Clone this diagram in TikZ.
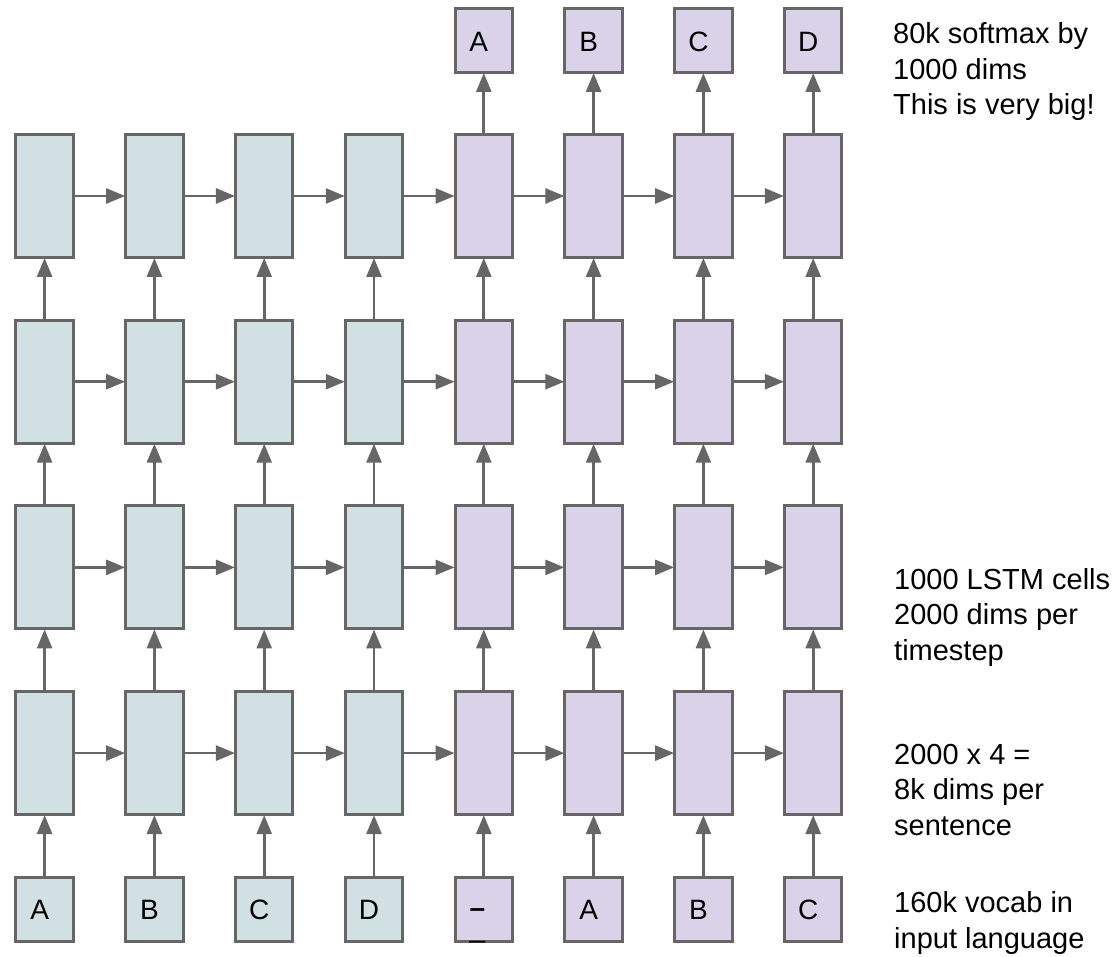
\documentclass[tikz,border=0pt]{standalone}
\usepackage{fontspec}
\setmainfont{Liberation Sans}
\usetikzlibrary{arrows.meta, positioning}

\definecolor{encfill}{HTML}{D0E0E3}
\definecolor{decfill}{HTML}{D9D2E9}
\definecolor{edgegray}{HTML}{666666}

\begin{document}
\begin{tikzpicture}[
    x=1pt, y=-1pt,
    cell/.style={rectangle, draw=edgegray, line width=3pt, inner sep=0pt,
                 minimum width=57.5pt, minimum height=123pt},
    token/.style={rectangle, draw=edgegray, line width=3pt, inner sep=0pt,
                  minimum width=57.5pt, minimum height=64pt,
                  font=\fontsize{28}{30}\selectfont},
    tokenlbl/.style={inner sep=0pt, xshift=-5pt, font=\fontsize{28}{30}\selectfont},
    flow/.style={-{Triangle[length=19pt, width=15pt]}, draw=edgegray, fill=edgegray,
                 line width=2.7pt, shorten >=-1pt},
    note/.style={anchor=base west, inner sep=0pt, align=left,
                 font=\fontsize{29}{35.5}\selectfont},
]
\useasboundingbox (0,0) rectangle (1120,957);

% LSTM cells: 4 layers, encoder columns 1-4, decoder columns 5-8
\foreach \c in {1,...,8}{
  \pgfmathsetmacro{\xc}{44.6+(\c-1)*109.8}
  \ifnum\c<5 \def\cfill{encfill}\else\def\cfill{decfill}\fi
  \foreach \r in {1,...,4}{
    \node[cell, fill=\cfill] (L\r-\c) at (\xc, {196+(\r-1)*185.7}) {};
  }
  % input token boxes
  \node[token, fill=\cfill] (in\c) at (\xc, 909.5) {};
}

% output token boxes above decoder
\foreach \c in {5,...,8}{
  \pgfmathsetmacro{\xc}{44.6+(\c-1)*109.8}
  \node[token, fill=decfill] (out\c) at (\xc, 40.5) {};
}

% token labels
\foreach \c/\t in {1/A, 2/B, 3/C, 4/D, 6/A, 7/B, 8/C}{
  \node[tokenlbl] at (in\c) {\t};
}
\node[tokenlbl, xshift=-1.5pt, yshift=-4pt] (eos) at (in5) {\textbf{–}};
\node[anchor=base, inner sep=0pt, font=\fontsize{28}{30}\selectfont]
     (eosbar) at ([xshift=-6.5pt]in5.south |- 0,937) {\_};
\foreach \c/\t in {5/A, 6/B, 7/C, 8/D}{
  \node[tokenlbl, yshift=-1.5pt] at (out\c) {\t};
}

% vertical connections
\foreach \c in {1,...,8}{
  \draw[flow] (in\c) -- (L4-\c);
  \draw[flow] (L4-\c) -- (L3-\c);
  \draw[flow] (L3-\c) -- (L2-\c);
  \draw[flow] (L2-\c) -- (L1-\c);
}
\foreach \c in {5,...,8}{
  \draw[flow] (L1-\c) -- (out\c);
}

% horizontal (recurrent) connections
\foreach \r in {1,...,4}{
  \foreach \c [evaluate=\c as \n using int(\c+1)] in {1,...,7}{
    \draw[flow] (L\r-\c) -- (L\r-\n);
  }
}

% side notes (anchored at the baseline of the last line)
\node[note] (softmax) at (893,115) {80k softmax by\\1000 dims\\This is very big!};
\node[note] (cells) at (894,660) {1000 LSTM cells\\2000 dims per\\timestep};
\node[note] (state) at (894,835) {2000 x 4 =\\8k dims per\\sentence};
\node[note] (vocab) at (894,948) {160k vocab in\\input language};

\end{tikzpicture}
\end{document}
